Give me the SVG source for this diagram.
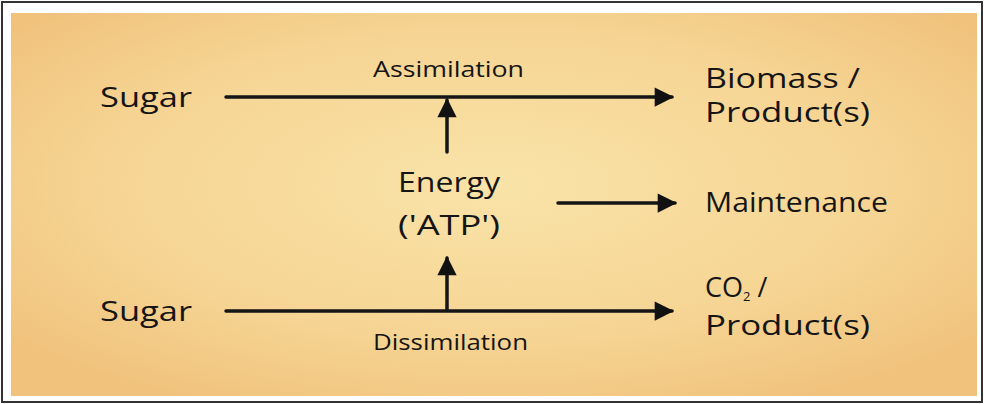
<svg xmlns="http://www.w3.org/2000/svg" width="984" height="404" viewBox="0 0 984 404">
<defs>
<radialGradient id="paper" cx="50%" cy="45%" r="65%">
<stop offset="0" stop-color="#F9E3A8"/>
<stop offset="0.6" stop-color="#F6D594"/>
<stop offset="1" stop-color="#F0C27C"/>
</radialGradient>
<marker id="ah" viewBox="0 0 10 10" refX="9" refY="5" markerWidth="6" markerHeight="5.5" markerUnits="strokeWidth" orient="auto">
<path d="M0,0 L10,5 L0,10 Z" fill="#111"/>
</marker>
<style>
.t{font-family:"Open Sans","Liberation Sans",sans-serif;fill:#151515;}
.big{font-size:27px;}
.sm{font-size:21px;}
.c{fill:none;stroke:#151515;stroke-width:3.5;stroke-linecap:round;marker-end:url(#ah);}
</style>
</defs>
<rect x="0" y="0" width="984" height="404" fill="#fff"/>
<rect x="2" y="2" width="980" height="400" fill="#fff" stroke="#333" stroke-width="2"/>
<rect x="11" y="13" width="966" height="383" fill="url(#paper)"/>
<g id="connectors">
<path class="c" d="M226,97 L672,97"/>
<path class="c" d="M226,311 L672,311"/>
<path class="c" d="M447,152 L447,100"/>
<path class="c" d="M447,310 L447,258"/>
<path class="c" d="M558,203 L675,203"/>
</g>
<g id="sugar-top"><text class="t big" x="100" y="107" textLength="92" lengthAdjust="spacingAndGlyphs">Sugar</text></g>
<g id="sugar-bottom"><text class="t big" x="100" y="321" textLength="92" lengthAdjust="spacingAndGlyphs">Sugar</text></g>
<g id="assimilation"><text class="t sm" x="373" y="77" textLength="151" lengthAdjust="spacingAndGlyphs">Assimilation</text></g>
<g id="dissimilation"><text class="t sm" x="373" y="350" textLength="155" lengthAdjust="spacingAndGlyphs">Dissimilation</text></g>
<g id="energy">
<text class="t big" x="398" y="192" textLength="102" lengthAdjust="spacingAndGlyphs">Energy</text>
<text class="t big" x="398" y="235" textLength="102" lengthAdjust="spacingAndGlyphs">('ATP')</text>
</g>
<g id="biomass">
<text class="t big" x="705" y="88" textLength="155" lengthAdjust="spacingAndGlyphs">Biomass /</text>
<text class="t big" x="705" y="122" textLength="165" lengthAdjust="spacingAndGlyphs">Product(s)</text>
</g>
<g id="maintenance"><text class="t big" x="705" y="212" textLength="183" lengthAdjust="spacingAndGlyphs">Maintenance</text></g>
<g id="co2">
<text class="t big" x="705" y="297">CO<tspan font-size="13" dy="4">2</tspan><tspan dy="-4"> /</tspan></text>
<text class="t big" x="705" y="335" textLength="165" lengthAdjust="spacingAndGlyphs">Product(s)</text>
</g>
</svg>
